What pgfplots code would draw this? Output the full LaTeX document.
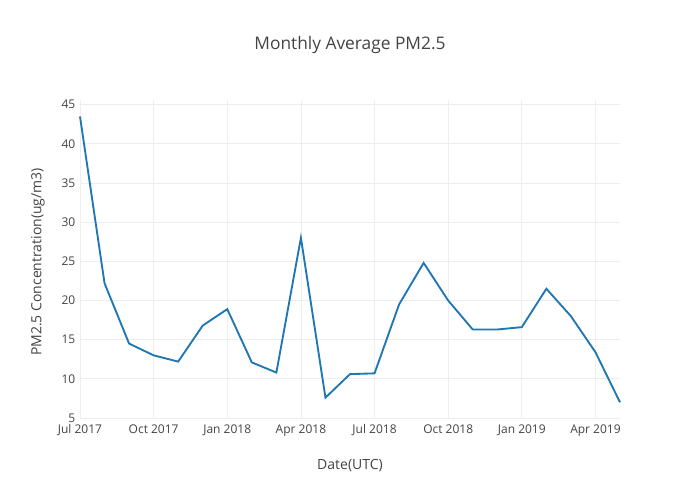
\documentclass[border=0pt]{standalone}
\usepackage{pgfplots}
\pgfplotsset{compat=1.18}
\usepackage{fontspec}
\setmainfont{Open Sans}
\definecolor{txt}{HTML}{444444}
\definecolor{ln}{HTML}{1F77B4}
\definecolor{gr}{HTML}{EEEEEE}
\begin{document}
\begin{tikzpicture}[x=1pt,y=1pt]
\path[fill=white] (0,0) rectangle (525,375);
\node[txt,font=\fontsize{13}{15}\selectfont] at (262.5,341) {Monthly Average PM2.5};
\node[txt,font=\fontsize{10.5}{12}\selectfont] at (262.5,25.5) {Date(UTC)};
\node[txt,rotate=90,font=\fontsize{10.5}{12}\selectfont] at (28.5,178.5) {PM2.5 Concentration(ug/m3)};
\begin{axis}[at={(60pt,61.5pt)},anchor=south west,scale only axis,
 width=405pt,height=238.5pt,xmin=0,xmax=22,ymin=5,ymax=45.6,
 axis line style={draw=none},tick style={draw=none},
 grid=major,grid style={gr,line width=0.6pt},
 xtick={0,3,6,9,12,15,18,21},
 xticklabels={Jul 2017,Oct 2017,Jan 2018,Apr 2018,Jul 2018,Oct 2018,Jan 2019,Apr 2019},
 ytick={5,10,...,45},
 ticklabel style={txt,font=\fontsize{9}{10}\selectfont},
 /pgf/number format/assume math mode=true,
 xticklabel style={yshift=-1.5pt},
 clip=false]
\addplot[ln,line width=1.4pt,mark=none] coordinates {
(0,43.5)(1,22.2)(2,14.5)(3,13.0)(4,12.2)(5,16.8)(6,18.9)(7,12.1)(8,10.8)(9,28.0)(10,7.6)(11,10.6)(12,10.7)(13,19.5)(14,24.8)(15,20.0)(16,16.3)(17,16.3)(18,16.6)(19,21.5)(20,18.0)(21,13.4)(22,7.0)};
\end{axis}
\end{tikzpicture}
\end{document}
